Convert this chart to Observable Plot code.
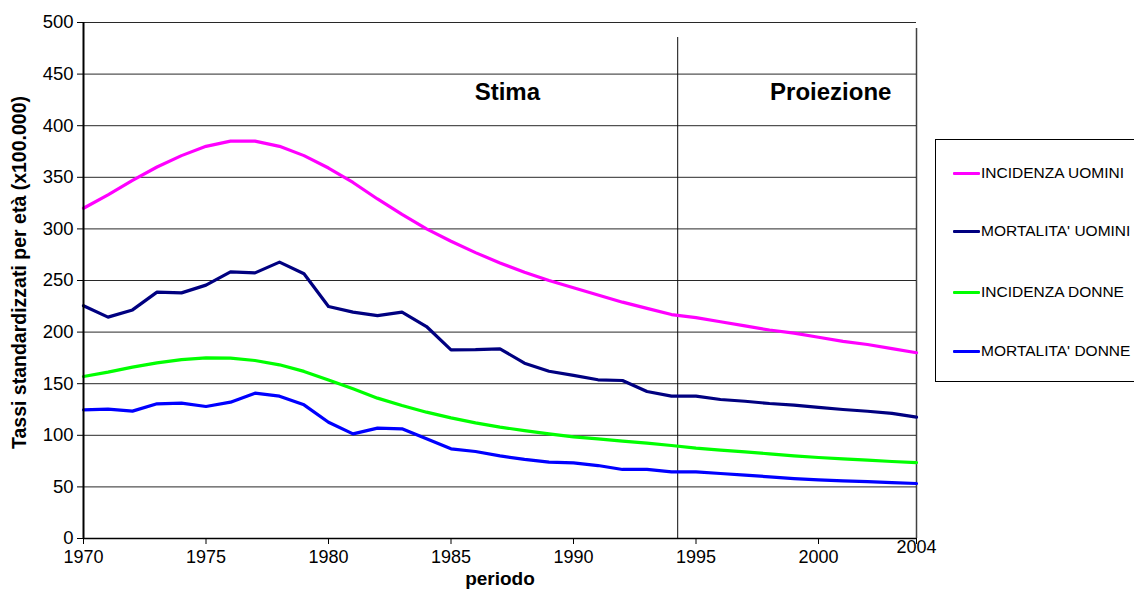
<!DOCTYPE html>
<html><head><meta charset="utf-8">
<script src="https://cdn.jsdelivr.net/npm/d3@7"></script>
<script src="https://cdn.jsdelivr.net/npm/@observablehq/plot@0.6"></script>
<style>
body{margin:0;background:#fff;font-family:"Liberation Sans",Arial,sans-serif;}
#wrap{position:relative;width:1134px;height:594px;overflow:hidden;}
#legend{position:absolute;left:935px;top:139px;width:210px;height:243px;border:1px solid #000;box-sizing:border-box;background:#fff;}
.item{position:absolute;left:17px;display:flex;align-items:center;font-size:15.5px;white-space:nowrap;color:#000;line-height:16px;}
.sw{width:27px;height:3px;margin-right:1px;border-radius:1px;}
</style></head><body><div id="wrap"></div>
<script>
const years = [1970,1971,1972,1973,1974,1975,1976,1977,1978,1979,1980,1981,1982,1983,1984,1985,1986,1987,1988,1989,1990,1991,1992,1993,1994,1995,1996,1997,1998,1999,2000,2001,2002,2003,2004];
const seriesNames = ["INCIDENZA UOMINI","MORTALITA' UOMINI","INCIDENZA DONNE","MORTALITA' DONNE"];
const seriesColors = ["#ff00ff","#000080","#00ff00","#0000ff"];
const incidenzaUomini = [320,333,347,360,371,380,385,385,380,371,359,345,329,314,300,288,277,267,258,250,243,236,229,223,217,214,210,206,202,199,195,191,188,184,180];
const mortalitaUomini = [225.5,214.5,221.5,238.7,238,245.5,258.4,257.4,267.8,256.5,224.8,219.3,216,219.3,205.4,182.8,183,183.8,169.9,162.1,158,153.8,153.1,142.4,137.9,137.9,134.7,133,130.8,129.2,127,125,123.3,121.3,117.6];
const incidenzaDonne = [157,161.2,166,170.2,173.4,175,174.7,172.5,168.3,161.9,153.5,145,136,128.9,122.4,116.9,112,107.9,104.6,101.4,98.5,96.6,94.3,92.4,90.1,87.5,85.6,84,82,80.1,78.5,77.2,75.9,74.6,73.6];
const mortalitaDonne = [124.7,125.3,123.4,130.5,131.1,127.9,132.1,140.8,137.9,129.5,112.7,101.4,106.9,106.3,96.6,86.9,84.3,80.1,76.6,74,73.3,70.7,66.9,66.9,64.6,64.6,63,61.4,59.8,58.1,56.8,55.8,55.2,54.2,53.3];
const yTicks = [0,50,100,150,200,250,300,350,400,450,500];
const xTicks = [1970,1975,1980,1985,1990,1995,2000,2004];
const xEndTick = [2004];
const divider = [1994.25];
const phaseLabels = [{x:1987.3, y:432, label:"Stima"},{x:2000.5, y:432, label:"Proiezione"}];
const yTitle = "Tassi standardizzati per età (x100.000)";
const xTitle = "periodo";

const allSeries = [incidenzaUomini, mortalitaUomini, incidenzaDonne, mortalitaDonne];
const table = [];
seriesNames.forEach((name, i) => years.forEach((yr, j) => table.push({series:name, year:yr, value:allSeries[i][j]})));

const font = '"Liberation Sans", Arial, sans-serif';
const chart = Plot.plot({
  width:1134, height:594,
  marginLeft:83, marginRight:218, marginTop:22, marginBottom:56,
  style:{fontFamily:font, fontSize:"17px", background:"#fff", color:"#000"},
  x:{domain:[1970,2004]},
  y:{domain:[0,500]},
  color:{domain:seriesNames, range:seriesColors},
  marks:[
    Plot.gridY(yTicks, {stroke:"#111", strokeOpacity:0.9, strokeWidth:1}),
    Plot.ruleX(divider, {y1:0, y2:500, stroke:"#111", strokeOpacity:0.85, strokeWidth:1.2, insetBottom:-15}),
    Plot.ruleX(xEndTick, {y1:0, y2:500, stroke:"#111", strokeOpacity:0.8, strokeWidth:1.5, insetBottom:-6}),
    Plot.lineY(table, {x:"year", y:"value", z:"series", stroke:"series", strokeWidth:3.2, strokeLinejoin:"round"}),
    Plot.ruleY([0], {stroke:"#000", strokeWidth:1.5}),
    Plot.ruleX([1970], {y1:0, y2:500, stroke:"#000", strokeWidth:2}),
    Plot.axisY(yTicks, {tickSize:6, tickPadding:4, fontSize:18.5, label:null, tickFormat:d => String(d)}),
    Plot.axisX(xTicks, {tickSize:6, tickPadding:6, fontSize:18, label:null, tickFormat:d => d === 2004 ? "" : String(d)}),
    Plot.text(xEndTick, {x:d => d, frameAnchor:"bottom", dy:14.5, text:d => String(d), fontSize:18}),
    Plot.text(phaseLabels, {x:"x", y:"y", text:"label", fontSize:24, fontWeight:"bold"}),
    Plot.text([yTitle], {frameAnchor:"left", textAnchor:"middle", dx:-64, dy:-8, rotate:-90, fontSize:19.5, fontWeight:"bold"}),
    Plot.text([xTitle], {frameAnchor:"bottom", dy:46, fontSize:19, fontWeight:"bold"})
  ]
});
const wrap = document.getElementById("wrap");
wrap.appendChild(chart);
const legend = document.createElement("div");
legend.id = "legend";
const rowCenters = [33, 91, 152, 211];
seriesNames.forEach((name, i) => {
  const item = document.createElement("div");
  item.className = "item";
  item.style.top = (rowCenters[i] - 8) + "px";
  const sw = document.createElement("div");
  sw.className = "sw";
  sw.style.background = seriesColors[i];
  const t = document.createElement("span");
  t.textContent = name;
  item.appendChild(sw); item.appendChild(t);
  legend.appendChild(item);
});
wrap.appendChild(legend);
</script></body></html>
